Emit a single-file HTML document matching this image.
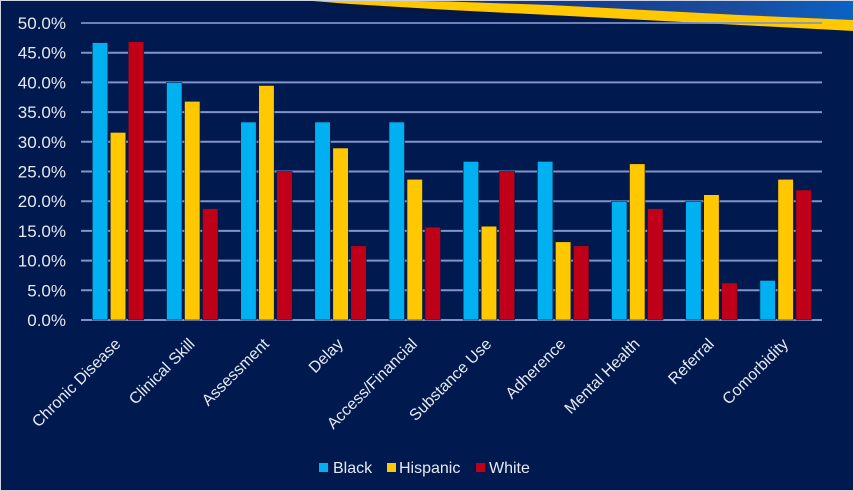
<!DOCTYPE html>
<html>
<head>
<meta charset="utf-8">
<style>
  html, body { margin: 0; padding: 0; background: #001a4f; }
  body { width: 854px; height: 491px; overflow: hidden; }
  svg { display: block; }
  text { font-family: "Liberation Sans", "DejaVu Sans", sans-serif; fill: #e6e9f2; }
</style>
</head>
<body>
<svg width="854" height="491" viewBox="0 0 854 491" xmlns="http://www.w3.org/2000/svg">
  <defs>
    <linearGradient id="sky" x1="0" y1="0" x2="1" y2="0">
      <stop offset="0" stop-color="#0b1f55"/>
      <stop offset="0.45" stop-color="#15398a"/>
      <stop offset="0.8" stop-color="#1a4c9e"/>
      <stop offset="1" stop-color="#0a62c4"/>
    </linearGradient>
    <linearGradient id="shadow" x1="0" y1="0" x2="0" y2="1">
      <stop offset="0" stop-color="#0a1535" stop-opacity="0.8"/>
      <stop offset="1" stop-color="#001a4f" stop-opacity="0"/>
    </linearGradient>
  </defs>

  <rect x="0" y="0" width="854" height="491" fill="#001a4f"/>

  <!-- top-right decoration -->
  <polygon points="270,0 854,0 854,20 740,15 550,5 450,1.5 350,0" fill="url(#sky)"/>
  <polygon points="300,0 350,4 450,10 550,15 740,25 854,31 854,40 740,33 550,23 450,17 350,9" fill="url(#shadow)"/>
  <polygon points="270,0 350,0 450,1.5 550,5 740,15 854,20 854,31 740,25 550,15 450,10 350,4 300,0" fill="#ffc800"/>

  <!-- gridlines -->
  <g stroke="#8094c8" stroke-width="2">
    <line x1="81" y1="320" x2="822" y2="320"/>
    <line x1="81" y1="290.3" x2="822" y2="290.3"/>
    <line x1="81" y1="260.6" x2="822" y2="260.6"/>
    <line x1="81" y1="230.9" x2="822" y2="230.9"/>
    <line x1="81" y1="201.2" x2="822" y2="201.2"/>
    <line x1="81" y1="171.5" x2="822" y2="171.5"/>
    <line x1="81" y1="141.8" x2="822" y2="141.8"/>
    <line x1="81" y1="112.1" x2="822" y2="112.1"/>
    <line x1="81" y1="82.4" x2="822" y2="82.4"/>
    <line x1="81" y1="52.7" x2="822" y2="52.7"/>
    <line x1="81" y1="23" x2="822" y2="23" stroke-opacity="0.85"/>
  </g>

  <!-- y labels -->
  <g font-size="17" text-anchor="end">
    <text x="66" y="326">0.0%</text>
    <text x="66" y="296.3">5.0%</text>
    <text x="66" y="266.6">10.0%</text>
    <text x="66" y="236.9">15.0%</text>
    <text x="66" y="207.2">20.0%</text>
    <text x="66" y="177.5">25.0%</text>
    <text x="66" y="147.8">30.0%</text>
    <text x="66" y="118.1">35.0%</text>
    <text x="66" y="88.4">40.0%</text>
    <text x="66" y="58.7">45.0%</text>
    <text x="66" y="29">50.0%</text>
  </g>

  <!-- bars -->
  <g id="bars" stroke="#0a1a40" stroke-width="0.6"></g>

  <!-- x labels -->
  <g id="xl" font-size="16" text-anchor="end"></g>

  <!-- legend -->
  <rect x="319" y="463" width="9" height="9" fill="#00b0f0"/>
  <text x="333" y="473" font-size="16">Black</text>
  <rect x="387" y="463" width="9" height="9" fill="#ffc800"/>
  <text x="399" y="473" font-size="16">Hispanic</text>
  <rect x="476" y="463" width="9" height="9" fill="#c00018"/>
  <text x="489" y="473" font-size="16">White</text>

  <!-- border -->
  <rect x="0.5" y="0.5" width="853" height="490" fill="none" stroke="#cfd5e3" stroke-width="1"/>

  <!-- static bars and labels (inline, no script dependency) -->
  <g stroke="#0a1a40" stroke-width="0.6">
    <!-- Chronic Disease c=118.08 -->
    <rect x="92.3" y="42.6" width="15.5" height="277.4" fill="#00b0f0"/>
    <rect x="110.3" y="132.4" width="15.5" height="187.6" fill="#ffc800"/>
    <rect x="128.3" y="41.6" width="15.5" height="278.4" fill="#c00018"/>
    <!-- Clinical Skill c=192.25 -->
    <rect x="166.5" y="82.4" width="15.5" height="237.6" fill="#00b0f0"/>
    <rect x="184.5" y="101.3" width="15.5" height="218.7" fill="#ffc800"/>
    <rect x="202.5" y="208.6" width="15.5" height="111.4" fill="#c00018"/>
    <!-- Assessment c=266.42 -->
    <rect x="240.7" y="122.0" width="15.5" height="198.0" fill="#00b0f0"/>
    <rect x="258.7" y="85.5" width="15.5" height="234.5" fill="#ffc800"/>
    <rect x="276.7" y="171.5" width="15.5" height="148.5" fill="#c00018"/>
    <!-- Delay c=340.6 -->
    <rect x="314.8" y="122.0" width="15.5" height="198.0" fill="#00b0f0"/>
    <rect x="332.8" y="148.0" width="15.5" height="172.0" fill="#ffc800"/>
    <rect x="350.8" y="245.8" width="15.5" height="74.2" fill="#c00018"/>
    <!-- Access/Financial c=414.77 -->
    <rect x="389.0" y="122.0" width="15.5" height="198.0" fill="#00b0f0"/>
    <rect x="407.0" y="179.3" width="15.5" height="140.7" fill="#ffc800"/>
    <rect x="425.0" y="227.2" width="15.5" height="92.8" fill="#c00018"/>
    <!-- Substance Use c=488.94 -->
    <rect x="463.2" y="161.4" width="15.5" height="158.6" fill="#00b0f0"/>
    <rect x="481.2" y="226.2" width="15.5" height="93.8" fill="#ffc800"/>
    <rect x="499.2" y="171.5" width="15.5" height="148.5" fill="#c00018"/>
    <!-- Adherence c=563.1 -->
    <rect x="537.4" y="161.4" width="15.5" height="158.6" fill="#00b0f0"/>
    <rect x="555.4" y="241.8" width="15.5" height="78.2" fill="#ffc800"/>
    <rect x="573.4" y="245.8" width="15.5" height="74.2" fill="#c00018"/>
    <!-- Mental Health c=637.28 -->
    <rect x="611.5" y="201.2" width="15.5" height="118.8" fill="#00b0f0"/>
    <rect x="629.5" y="163.8" width="15.5" height="156.2" fill="#ffc800"/>
    <rect x="647.5" y="208.6" width="15.5" height="111.4" fill="#c00018"/>
    <!-- Referral c=711.45 -->
    <rect x="685.7" y="201.2" width="15.5" height="118.8" fill="#00b0f0"/>
    <rect x="703.7" y="194.7" width="15.5" height="125.3" fill="#ffc800"/>
    <rect x="721.7" y="282.9" width="15.5" height="37.1" fill="#c00018"/>
    <!-- Comorbidity c=785.6 -->
    <rect x="759.9" y="280.4" width="15.5" height="39.6" fill="#00b0f0"/>
    <rect x="777.9" y="179.3" width="15.5" height="140.7" fill="#ffc800"/>
    <rect x="795.9" y="190.0" width="15.5" height="130.0" fill="#c00018"/>
  </g>

  <g font-size="16" text-anchor="end">
    <text transform="translate(121.5,345) rotate(-45)">Chronic Disease</text>
    <text transform="translate(195.7,345) rotate(-45)">Clinical Skill</text>
    <text transform="translate(269.9,345) rotate(-45)">Assessment</text>
    <text transform="translate(344.0,345) rotate(-45)">Delay</text>
    <text transform="translate(418.2,345) rotate(-45)">Access/Financial</text>
    <text transform="translate(492.4,345) rotate(-45)">Substance Use</text>
    <text transform="translate(566.6,345) rotate(-45)">Adherence</text>
    <text transform="translate(640.7,345) rotate(-45)">Mental Health</text>
    <text transform="translate(714.9,345) rotate(-45)">Referral</text>
    <text transform="translate(789.1,345) rotate(-45)">Comorbidity</text>
  </g>
</svg>
</body>
</html>
